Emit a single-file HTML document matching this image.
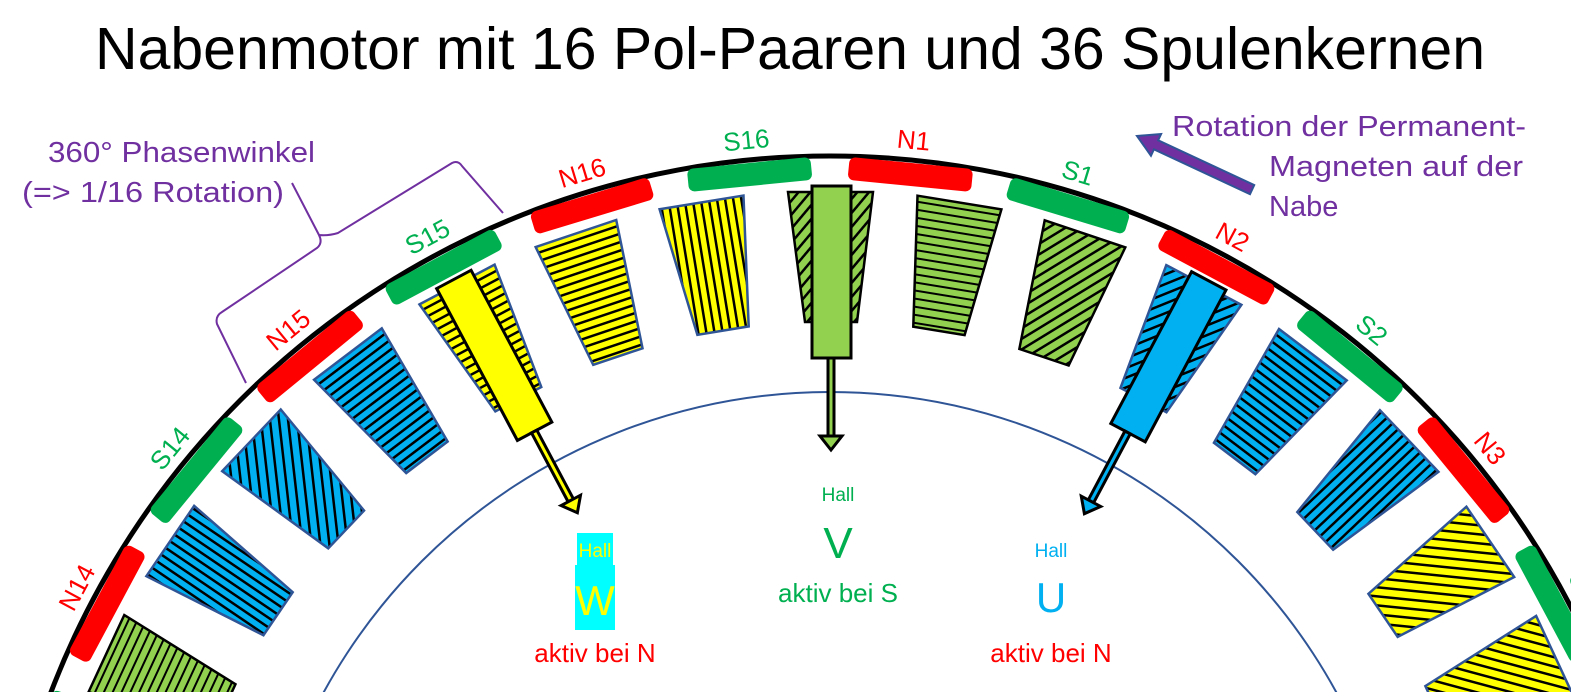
<!DOCTYPE html>
<html><head><meta charset="utf-8"><style>
html,body{margin:0;padding:0;background:#fff;width:1571px;height:692px;overflow:hidden;}
svg{display:block;font-family:"Liberation Sans",sans-serif;}
</style></head><body>
<svg width="1571" height="692" viewBox="0 0 1571 692" xmlns="http://www.w3.org/2000/svg">
<defs>
<pattern id="gH" width="8" height="8" patternUnits="userSpaceOnUse"><rect width="8" height="8" fill="#92d050"/><rect y="5" width="8" height="2" fill="#000"/></pattern>
<pattern id="gD" width="9" height="9" patternUnits="userSpaceOnUse" patternTransform="rotate(-50)"><rect width="9" height="9" fill="#92d050"/><rect y="5" width="9" height="2.5" fill="#000"/></pattern>
<pattern id="bH" width="8" height="8" patternUnits="userSpaceOnUse"><rect width="8" height="8" fill="#00b0f0"/><rect y="5" width="8" height="2.5" fill="#000"/></pattern>
<pattern id="bD" width="9" height="9" patternUnits="userSpaceOnUse" patternTransform="rotate(-50)"><rect width="9" height="9" fill="#00b0f0"/><rect y="5" width="9" height="2.5" fill="#000"/></pattern>
<pattern id="bV" width="8" height="8" patternUnits="userSpaceOnUse"><rect width="8" height="8" fill="#00b0f0"/><rect x="5" width="2.5" height="8" fill="#000"/></pattern>
<pattern id="yH" width="8" height="8" patternUnits="userSpaceOnUse"><rect width="8" height="8" fill="#ffff00"/><rect y="5" width="8" height="2.5" fill="#000"/></pattern>
<pattern id="yD" width="9" height="9" patternUnits="userSpaceOnUse" patternTransform="rotate(-50)"><rect width="9" height="9" fill="#ffff00"/><rect y="5" width="9" height="2.5" fill="#000"/></pattern>
<pattern id="yV" width="8" height="8" patternUnits="userSpaceOnUse"><rect width="8" height="8" fill="#ffff00"/><rect x="5" width="2.5" height="8" fill="#000"/></pattern>
<polygon id="coil" points="788,192 873,192 857,322 805,322" stroke-width="2.5"/>
<rect id="mag" x="768" y="159" width="124" height="23" rx="6"/>
</defs>

<text x="790" y="69" font-size="59" text-anchor="middle" fill="#000" textLength="1390" lengthAdjust="spacingAndGlyphs">Nabenmotor mit 16 Pol-Paaren und 36 Spulenkernen</text>

<circle cx="830" cy="990" r="834" fill="none" stroke="#000" stroke-width="5"/>
<circle cx="830" cy="969" r="577" fill="none" stroke="#2f5597" stroke-width="2"/>

<g fill="#ff0000">
<use href="#mag" transform="rotate(5.625 830 990)"/>
<use href="#mag" transform="rotate(28.125 830 990)"/>
<use href="#mag" transform="rotate(50.625 830 990)"/>
<use href="#mag" transform="rotate(73.125 830 990)"/>
<use href="#mag" transform="rotate(-16.875 830 990)"/>
<use href="#mag" transform="rotate(-39.375 830 990)"/>
<use href="#mag" transform="rotate(-61.875 830 990)"/>
</g>
<g fill="#00b050">
<use href="#mag" transform="rotate(-5.625 830 990)"/>
<use href="#mag" transform="rotate(16.875 830 990)"/>
<use href="#mag" transform="rotate(39.375 830 990)"/>
<use href="#mag" transform="rotate(61.875 830 990)"/>
<use href="#mag" transform="rotate(-28.125 830 990)"/>
<use href="#mag" transform="rotate(-50.625 830 990)"/>
<use href="#mag" transform="rotate(-73.125 830 990)"/>
</g>
<g font-size="26" text-anchor="middle" dominant-baseline="central">
<text x="830" y="136" fill="#ff0000" transform="rotate(5.625 830 990)">N1</text>
<text x="830" y="136" fill="#00b050" transform="rotate(16.875 830 990)">S1</text>
<text x="830" y="136" fill="#ff0000" transform="rotate(28.125 830 990)">N2</text>
<text x="830" y="136" fill="#00b050" transform="rotate(39.375 830 990)">S2</text>
<text x="830" y="136" fill="#ff0000" transform="rotate(50.625 830 990)">N3</text>
<text x="830" y="136" fill="#00b050" transform="rotate(61.875 830 990)">S3</text>
<text x="830" y="136" fill="#ff0000" transform="rotate(73.125 830 990)">N4</text>
<text x="830" y="136" fill="#00b050" transform="rotate(-5.625 830 990)">S16</text>
<text x="830" y="136" fill="#ff0000" transform="rotate(-16.875 830 990)">N16</text>
<text x="830" y="136" fill="#00b050" transform="rotate(-28.125 830 990)">S15</text>
<text x="830" y="136" fill="#ff0000" transform="rotate(-39.375 830 990)">N15</text>
<text x="830" y="136" fill="#00b050" transform="rotate(-50.625 830 990)">S14</text>
<text x="830" y="136" fill="#ff0000" transform="rotate(-61.875 830 990)">N14</text>
<text x="830" y="136" fill="#00b050" transform="rotate(-73.125 830 990)">S13</text>
</g>

<g stroke="#000">
<use href="#coil" fill="url(#gD)"/>
<use href="#coil" fill="url(#gH)" transform="rotate(9.3 830 990)"/>
<use href="#coil" fill="url(#gD)" transform="rotate(18.6 830 990)"/>
<use href="#coil" fill="url(#gH)" transform="rotate(-65.1 830 990)"/>
</g>
<g stroke="#2f5597">
<use href="#coil" fill="url(#bD)" transform="rotate(27.9 830 990)"/>
<use href="#coil" fill="url(#bH)" transform="rotate(37.2 830 990)"/>
<use href="#coil" fill="url(#bV)" transform="rotate(46.5 830 990)"/>
<use href="#coil" fill="url(#yD)" transform="rotate(55.8 830 990)"/>
<use href="#coil" fill="url(#yD)" transform="rotate(65.1 830 990)"/>
<use href="#coil" fill="url(#yV)" transform="rotate(-9.3 830 990)"/>
<use href="#coil" fill="url(#yH)" transform="rotate(-18.6 830 990)"/>
<use href="#coil" fill="url(#yH)" transform="rotate(-27.9 830 990)"/>
<use href="#coil" fill="url(#bH)" transform="rotate(-37.2 830 990)"/>
<use href="#coil" fill="url(#bD)" transform="rotate(-46.5 830 990)"/>
<use href="#coil" fill="url(#bV)" transform="rotate(-55.8 830 990)"/>
</g>

<g stroke="#000" stroke-width="3">
<g fill="#92d050">
<rect x="812" y="186" width="39" height="172"/>
<rect x="828" y="358" width="6" height="78"/>
<polygon points="820,436 842,436 831,450"/>
</g>
<g fill="#ffff00" transform="rotate(-28 830 990)">
<rect x="812" y="186" width="39" height="172"/>
<rect x="828" y="358" width="6" height="78"/>
<polygon points="820,436 842,436 831,450"/>
</g>
<g fill="#00b0f0" transform="rotate(28 830 990)">
<rect x="812" y="186" width="39" height="172"/>
<rect x="828" y="358" width="6" height="78"/>
<polygon points="820,436 842,436 831,450"/>
</g>
</g>

<rect x="577" y="533" width="36" height="33" fill="#00ffff"/>
<rect x="575" y="565" width="40" height="65" fill="#00ffff"/>
<g text-anchor="middle">
<text x="595" y="557" font-size="19" fill="#ffff00">Hall</text>
<text x="595" y="615" font-size="42" fill="#ffff00">W</text>
<text x="595" y="662" font-size="26" fill="#ff0000">aktiv bei N</text>
<text x="838" y="501" font-size="19" fill="#00b050">Hall</text>
<text x="838" y="558" font-size="44" fill="#00b050">V</text>
<text x="838" y="602" font-size="26" fill="#00b050">aktiv bei S</text>
<text x="1051" y="557" font-size="19" fill="#00b0f0">Hall</text>
<text x="1051" y="612" font-size="42" fill="#00b0f0">U</text>
<text x="1051" y="662" font-size="26" fill="#ff0000">aktiv bei N</text>
</g>

<g fill="#7030a0" font-size="29">
<text x="48" y="162" textLength="267" lengthAdjust="spacingAndGlyphs">360° Phasenwinkel</text>
<text x="22" y="202" textLength="262" lengthAdjust="spacingAndGlyphs">(=&gt; 1/16 Rotation)</text>
<text x="1172" y="136" textLength="354" lengthAdjust="spacingAndGlyphs">Rotation der Permanent-</text>
<text x="1269" y="176" textLength="254" lengthAdjust="spacingAndGlyphs">Magneten auf der</text>
<text x="1269" y="216">Nabe</text>
</g>
<path d="M246,383 L217,324 Q215,316 222,312 L317,248 Q323,243 319,235 L292,183 M319,235 Q328,236 338,233 L452,163 Q458,160 462,166 L503,213" fill="none" stroke="#7030a0" stroke-width="2"/>

<g transform="rotate(25 1195 163)">
<polygon points="1258,158 1152,158 1152,151 1131,163 1152,175 1152,168 1258,168" fill="#7030a0" stroke="#2f5597" stroke-width="2"/>
</g>
</svg>
</body></html>
